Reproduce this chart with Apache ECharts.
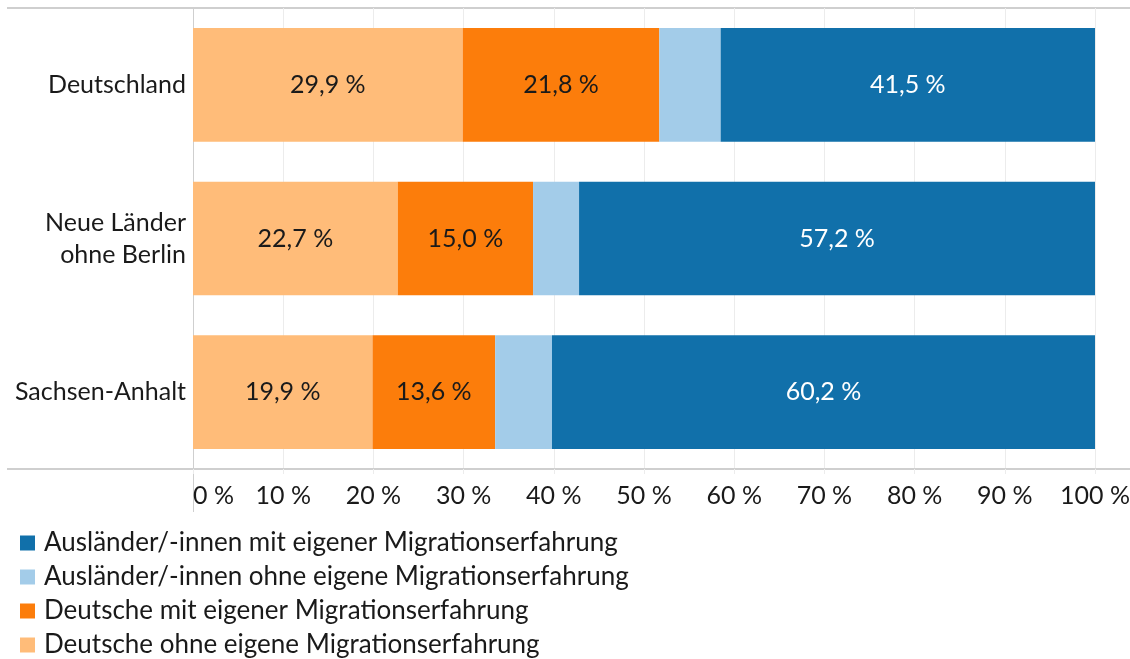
<!DOCTYPE html>
<html><head><meta charset="utf-8">
<script src="https://cdn.jsdelivr.net/npm/echarts@6/dist/echarts.min.js"></script>
<style>html,body{margin:0;padding:0;background:#fff}#c{width:1130px;height:659px}</style>
</head><body><div id="c"></div>
<script>
const categories = ['Deutschland', 'Neue Länder\nohne Berlin', 'Sachsen-Anhalt'];
const deutscheOhne = [29.9, 22.7, 19.9];
const deutscheMit = [21.8, 15.0, 13.6];
const auslOhne = [6.8, 5.1, 6.3];
const auslMit = [41.5, 57.2, 60.2];
const xTicks = [0, 10, 20, 30, 40, 50, 60, 70, 80, 90, 100];
const seriesNames = [
  'Deutsche ohne eigene Migrationserfahrung',
  'Deutsche mit eigener Migrationserfahrung',
  'Ausländer/-innen ohne eigene Migrationserfahrung',
  'Ausländer/-innen mit eigener Migrationserfahrung'
];
const colors = ['#FFBC79', '#FC7D0B', '#A3CCE9', '#1170AA'];
const FONT = 'Lato';
const chart = echarts.init(document.getElementById('c'));
function fmt(v){ return v.toFixed(1).replace('.', ',') + ' %'; }
function mk(i, data, showLabel, labelColor){
  return {
    name: seriesNames[i], type: 'bar', stack: 'a', data: data,
    barCategoryGap: '26%',
    itemStyle: {color: colors[i]},
    label: {show: showLabel, position: 'inside', color: labelColor, fontFamily: FONT, fontSize: 25,
      formatter: p => fmt(p.value)},
    emphasis: {disabled: true}
  };
}
chart.setOption({
  animation: false,
  textStyle: {fontFamily: FONT},
  grid: {left: 193, right: 35, top: 8, bottom: 190, outerBoundsMode: 'none'},
  xAxis: {
    type: 'value', min: 0, max: 100, interval: 10,
    axisLine: {show: true, lineStyle: {color: '#cfcfcf', width: 2}},
    axisTick: {show: true, length: 5, lineStyle: {color: '#ececec'}},
    splitLine: {show: true, lineStyle: {color: '#ececec', width: 1}},
    axisLabel: {fontFamily: FONT, fontSize: 25, color: '#1a1a1a', margin: 14,
      alignMinLabel: 'left',
      formatter: v => xTicks.indexOf(v) >= 0 ? v + ' %' : ''}
  },
  yAxis: {
    type: 'category', data: categories, inverse: true,
    axisLine: {show: true, lineStyle: {color: '#cfcfcf', width: 1}},
    axisTick: {show: false},
    axisLabel: {fontFamily: FONT, fontSize: 25, color: '#1a1a1a', margin: 7, lineHeight: 32, align: 'right'}
  },
  legend: {
    orient: 'vertical', left: 15, top: 525, height: 300,
    itemWidth: 15, itemHeight: 15, itemGap: 8,
    icon: 'rect',
    data: [seriesNames[3], seriesNames[2], seriesNames[1], seriesNames[0]],
    textStyle: {fontFamily: FONT, fontSize: 26, lineHeight: 26, color: '#1a1a1a', padding: [0,0,0,4]}
  },
  graphic: [
    {type: 'line', shape: {x1: 7, y1: 8, x2: 1130, y2: 8}, style: {stroke: '#cfcfcf', lineWidth: 2}, silent: true},
    {type: 'line', shape: {x1: 7, y1: 469, x2: 193, y2: 469}, style: {stroke: '#cfcfcf', lineWidth: 2}, silent: true},
    {type: 'line', shape: {x1: 1095, y1: 469, x2: 1130, y2: 469}, style: {stroke: '#cfcfcf', lineWidth: 2}, silent: true},
    {type: 'line', shape: {x1: 193.5, y1: 469, x2: 193.5, y2: 512}, style: {stroke: '#cfcfcf', lineWidth: 1}, silent: true}
  ],
  series: [
    mk(0, deutscheOhne, true, '#1a1a1a'),
    mk(1, deutscheMit, true, '#1a1a1a'),
    mk(2, auslOhne, false, '#1a1a1a'),
    mk(3, auslMit, true, '#ffffff')
  ]
});
</script></body></html>
